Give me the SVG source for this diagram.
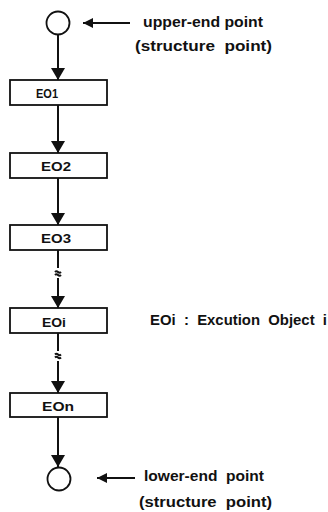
<svg xmlns="http://www.w3.org/2000/svg" width="328" height="512" viewBox="0 0 328 512">
<style>
.n{fill:#fff;stroke:#111;stroke-width:1.8}
.t{font-family:"Liberation Sans",Arial,sans-serif;font-weight:bold;fill:#111}
.lbl{font-size:13px}
.note{font-size:15px}
.c{stroke:#111;stroke-width:2;fill:none}
.brk{stroke:#111;stroke-width:2;fill:none}
</style>
<defs>
<marker id="ah" markerWidth="12" markerHeight="14" refX="12" refY="7" orient="auto" markerUnits="userSpaceOnUse">
<path d="M0,0 L12,7 L0,14 Z" fill="#111"/>
</marker>
<marker id="ahs" markerWidth="10" markerHeight="10" refX="10" refY="5" orient="auto" markerUnits="userSpaceOnUse">
<path d="M0,0 L10,5 L0,10 Z" fill="#111"/>
</marker>
</defs>
<rect width="328" height="512" fill="#fff"/>
<g id="connectors">
<line class="c" x1="58" y1="35" x2="58" y2="80" marker-end="url(#ah)"/>
<line class="c" x1="58" y1="105" x2="58" y2="153" marker-end="url(#ah)"/>
<line class="c" x1="58" y1="178" x2="58" y2="225" marker-end="url(#ah)"/>
<line class="c" x1="58" y1="250" x2="58" y2="268"/>
<path class="brk" d="M55,272 q1.5,-1.5 3,0 t3,0 M55,275 q1.5,-1.5 3,0 t3,0"/>
<line class="c" x1="58" y1="278" x2="58" y2="308" marker-end="url(#ah)"/>
<line class="c" x1="58" y1="333" x2="58" y2="351"/>
<path class="brk" d="M55,354.5 q1.5,-1.5 3,0 t3,0 M55,357.5 q1.5,-1.5 3,0 t3,0"/>
<line class="c" x1="58" y1="361" x2="58" y2="393" marker-end="url(#ah)"/>
<line class="c" x1="58" y1="417" x2="58" y2="467" marker-end="url(#ah)"/>
<line class="c" x1="130" y1="23" x2="83" y2="23" marker-end="url(#ahs)"/>
<line class="c" x1="135" y1="478" x2="97" y2="478" marker-end="url(#ahs)"/>
</g>
<g id="upper-end">
<circle class="n" cx="58" cy="23" r="11.5"/>
</g>
<g id="EO1"><rect class="n" x="10" y="80" width="97" height="25"/><text class="t lbl" x="36" y="98" textLength="22" lengthAdjust="spacingAndGlyphs">EO1</text></g>
<g id="EO2"><rect class="n" x="10" y="153" width="97" height="25"/><text class="t lbl" x="41" y="171" textLength="30" lengthAdjust="spacingAndGlyphs">EO2</text></g>
<g id="EO3"><rect class="n" x="10" y="225" width="97" height="25"/><text class="t lbl" x="41" y="243" textLength="30" lengthAdjust="spacingAndGlyphs">EO3</text></g>
<g id="EOi"><rect class="n" x="10" y="308" width="97" height="25"/><text class="t lbl" x="42" y="327" textLength="24" lengthAdjust="spacingAndGlyphs">EOi</text></g>
<g id="EOn"><rect class="n" x="10" y="393" width="97" height="24"/><text class="t lbl" x="42" y="411" textLength="32" lengthAdjust="spacingAndGlyphs">EOn</text></g>
<g id="lower-end">
<circle class="n" cx="59" cy="479" r="11.5"/>
</g>
<g id="notes">
<text class="t note" x="143" y="27" textLength="120" lengthAdjust="spacingAndGlyphs" xml:space="preserve">upper-end point</text>
<text class="t note" x="135" y="51" textLength="137" lengthAdjust="spacingAndGlyphs" xml:space="preserve">(structure  point)</text>
<text class="t note" x="150" y="325" textLength="177" lengthAdjust="spacingAndGlyphs" xml:space="preserve">EOi  :  Excution  Object  i</text>
<text class="t note" x="144" y="481" textLength="120" lengthAdjust="spacingAndGlyphs" xml:space="preserve">lower-end  point</text>
<text class="t note" x="139" y="507" textLength="133" lengthAdjust="spacingAndGlyphs" xml:space="preserve">(structure  point)</text>
</g>
</svg>
